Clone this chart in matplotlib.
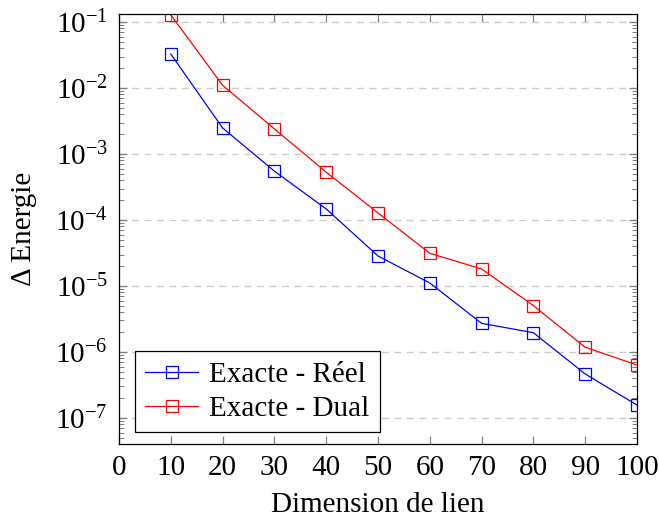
import matplotlib
matplotlib.use("Agg")
import matplotlib.pyplot as plt
from matplotlib.ticker import LogLocator, NullFormatter

# donnees
dims = [10, 20, 30, 40, 50, 60, 70, 80, 90, 100]
reel = [3.27e-2, 2.48e-3, 5.5e-4, 1.47e-4, 2.85e-5, 1.11e-5, 2.72e-6, 1.96e-6, 4.64e-7, 1.57e-7]
dual = [1.28e-1, 1.1e-2, 2.4e-3, 5.3e-4, 1.28e-4, 3.13e-5, 1.81e-5, 5.04e-6, 1.18e-6, 6.35e-7]
xticks = list(range(0, 101, 10))

plt.rcParams["font.family"] = ["Liberation Serif", "DejaVu Serif"]
plt.rcParams["mathtext.fontset"] = "stix"
plt.rcParams["font.size"] = 21

fig = plt.figure(figsize=(6.59, 5.18), dpi=100)
ax = fig.add_axes([0.1806, 0.1429, 0.786, 0.830])

ax.plot(dims, reel, color="blue", lw=0.9, marker="s", ms=8, mfc="none", mew=0.9,
        label="Exacte - Réel")
ax.plot(dims, dual, color="red", lw=0.9, marker="s", ms=8, mfc="none", mew=0.9,
        label="Exacte - Dual")

ax.set_yscale("log")
ax.set_xlim(0, 100)
ax.set_ylim(10 ** -7.394, 10 ** -0.879)
ax.set_xticks(xticks)
ax.yaxis.set_major_locator(LogLocator(base=10, numticks=20))
ax.yaxis.set_minor_locator(LogLocator(base=10, subs=range(2, 10), numticks=20))
ax.yaxis.set_minor_formatter(NullFormatter())

ax.grid(True, axis="y", which="major", ls=(0, (5, 4)), color="#cccccc", lw=1)
ax.set_axisbelow(True)
ax.tick_params(which="both", direction="in", top=True, right=True, color="#808080")
ax.tick_params(which="major", length=6, width=0.9, pad=8)
ax.tick_params(which="minor", length=3.5, width=0.7)
ax.tick_params(axis="both", labelsize=21)
for s in ax.spines.values():
    s.set_linewidth(0.9)

ax.set_xlabel("Dimension de lien", fontsize=21, labelpad=8)
ax.set_ylabel("Δ Energie", fontsize=21, labelpad=13)

leg = ax.legend(loc="lower left", bbox_to_anchor=(0.031, 0.028), fontsize=21,
                fancybox=False, framealpha=1, edgecolor="black", borderpad=0.35,
                labelspacing=0.25, handlelength=1.8, handletextpad=0.4,
                borderaxespad=0)
leg.get_frame().set_linewidth(0.9)

fig.savefig("out.png", dpi=100)
